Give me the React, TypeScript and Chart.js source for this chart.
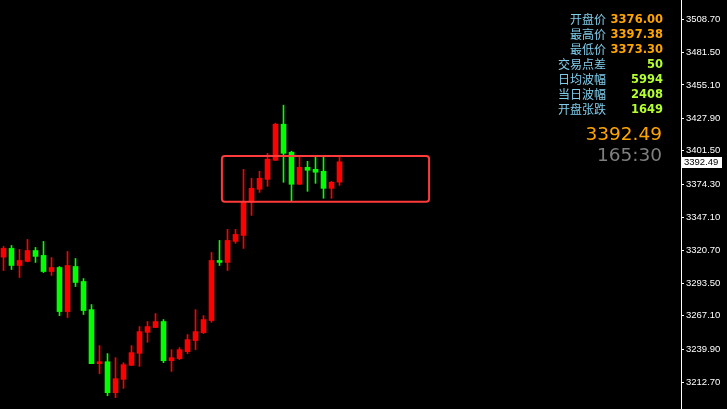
import React, { useEffect, useRef } from "react";
import { Chart, registerables } from "chart.js";

Chart.register(...registerables);

// ---- data ----
const opens = [
  3314.9, 3322.0, 3308.1, 3311.4, 3320.3, 3316.3, 3303.2, 3306.5, 3270.6, 3307.3,
  3295.1, 3272.2, 3228.2, 3229.8, 3204.6, 3215.4, 3226.8, 3236.6, 3253.7, 3257.6,
  3262.5, 3230.6, 3232.3, 3238.0, 3247.0, 3253.5, 3263.3, 3312.2, 3310.6, 3327.7,
  3332.6, 3359.5, 3370.1, 3378.2, 3393.7, 3423.1, 3400.3, 3374.2, 3388.0, 3386.4,
  3384.8, 3370.9, 3376.0,
];
const highs = [
  3323.6, 3324.4, 3321.2, 3329.3, 3322.8, 3327.7, 3314.6, 3307.3, 3319.5, 3313.8,
  3297.5, 3276.3, 3242.9, 3236.4, 3233.1, 3229.0, 3242.9, 3258.4, 3262.5, 3269.0,
  3264.1, 3239.6, 3241.3, 3251.9, 3272.2, 3267.3, 3318.7, 3328.5, 3337.5, 3337.5,
  3386.4, 3379.1, 3384.8, 3399.4, 3423.9, 3438.6, 3401.1, 3397.0, 3392.9, 3396.2,
  3396.2, 3376.6, 3397.38,
];
const lows = [
  3304.0, 3304.8, 3298.3, 3311.0, 3310.6, 3302.4, 3300.0, 3267.3, 3265.7, 3291.0,
  3268.2, 3228.2, 3220.0, 3202.1, 3200.5, 3208.1, 3226.8, 3226.0, 3245.6, 3257.6,
  3229.0, 3221.9, 3231.5, 3236.4, 3239.6, 3252.7, 3261.9, 3308.1, 3304.0, 3326.1,
  3322.0, 3348.9, 3367.6, 3372.5, 3393.7, 3375.8, 3360.3, 3374.2, 3368.5, 3375.0,
  3362.8, 3362.8, 3373.3,
];
const closes = [
  3322.0, 3308.1, 3312.2, 3320.3, 3315.5, 3303.2, 3306.5, 3270.6, 3308.1, 3294.3,
  3271.4, 3228.2, 3229.8, 3204.6, 3216.0, 3227.4, 3237.2, 3254.3, 3258.4, 3262.5,
  3230.6, 3233.1, 3239.6, 3247.8, 3254.3, 3264.1, 3312.2, 3310.6, 3328.5, 3333.4,
  3359.5, 3370.9, 3379.1, 3394.6, 3423.1, 3399.4, 3374.2, 3388.0, 3385.6, 3384.0,
  3370.9, 3375.8, 3392.49,
];

const yTickValues = [
  3508.7, 3481.5, 3455.1, 3427.9, 3401.5, 3374.3, 3347.1, 3320.7, 3293.5, 3267.1,
  3239.9, 3212.7,
];
const yMin = 3191.3;
const yMax = 3524.2;
const xMin = -0.4375;
const xMax = 84.6875;

// highlighted range box (data space)
const boxStartIndex = 27.3;
const boxEndIndex = 53.2;
const boxHigh = 3397.2;
const boxLow = 3360.0;

const infoLabels = ["开盘价", "最高价", "最低价", "交易点差", "日均波幅", "当日波幅", "开盘张跌"];
const infoValues = ["3376.00", "3397.38", "3373.30", "50", "5994", "2408", "1649"];
const lastPriceText = "3392.49";
const timerText = "165:30";

const UP = "#FF0000";
const DOWN = "#00FF00";

export default function App() {
  const ref = useRef<HTMLCanvasElement | null>(null);

  useEffect(() => {
    document.body.style.margin = "0";
    document.body.style.background = "#000";
    const canvas = ref.current;
    if (!canvas) return;

    const idx = closes.map((_, i) => i);
    const colors = idx.map((i) => (closes[i] >= opens[i] ? UP : DOWN));

    const overlay = {
      id: "overlay",
      beforeDraw(chart: any) {
        const ctx = chart.ctx;
        ctx.save();
        ctx.fillStyle = "#000";
        ctx.fillRect(0, 0, chart.width, chart.height);
        ctx.restore();
      },
      afterDatasetsDraw(chart: any) {
        const ctx = chart.ctx;
        const xs = chart.scales.x;
        const ys = chart.scales.y;
        const x0 = xs.getPixelForValue(boxStartIndex);
        const x1 = xs.getPixelForValue(boxEndIndex);
        const y0 = ys.getPixelForValue(boxHigh);
        const y1 = ys.getPixelForValue(boxLow);
        ctx.save();
        ctx.strokeStyle = "#FF3A3A";
        ctx.lineWidth = 2;
        ctx.beginPath();
        (ctx as any).roundRect(x0, y0, x1 - x0, y1 - y0, 3);
        ctx.stroke();
        ctx.restore();
      },
      afterDraw(chart: any) {
        const ctx = chart.ctx;
        const ys = chart.scales.y;
        ctx.save();
        // info panel
        ctx.textBaseline = "middle";
        for (let i = 0; i < infoLabels.length; i++) {
          const y = 19.8 + i * 14.9;
          ctx.textAlign = "right";
          ctx.font = '12px "Noto Sans CJK SC"';
          ctx.fillStyle = "#80CDEB";
          ctx.fillText(infoLabels[i], 606, y);
          ctx.font = 'bold 11.5px "DejaVu Sans"';
          ctx.fillStyle = i < 3 ? "#FFA500" : "#B4FF2F";
          ctx.fillText(infoValues[i], 663, y + 0.5);
        }
        ctx.font = '18.5px "DejaVu Sans"';
        ctx.fillStyle = "#FFA500";
        ctx.fillText(lastPriceText, 662, 135);
        ctx.fillStyle = "#7F7F7F";
        ctx.fillText(timerText, 662, 156);

        // price tag
        const py = ys.getPixelForValue(closes[closes.length - 1]);
        ctx.fillStyle = "#FFFFFF";
        ctx.fillRect(682, Math.round(py) - 5, 40, 11);
        ctx.fillStyle = "#000000";
        ctx.textAlign = "left";
        ctx.font = '9.5px "Liberation Sans"';
        ctx.fillText(lastPriceText, 684, Math.round(py) + 0.5);
        ctx.restore();
      },
    };

    const chart = new Chart(canvas, {
      type: "bar",
      data: {
        datasets: [
          {
            label: "wick",
            data: idx.map((i) => ({ x: i, y: [lows[i], highs[i]] })) as any,
            backgroundColor: colors,
            barThickness: 1,
            grouped: false,
            order: 2,
            borderWidth: 0,
          } as any,
          {
            label: "body",
            data: idx.map((i) => ({ x: i, y: [opens[i], closes[i]] })) as any,
            backgroundColor: colors,
            barThickness: 5,
            grouped: false,
            order: 1,
            borderWidth: 0,
            minBarLength: 1,
          } as any,
        ],
      },
      options: {
        animation: false,
        responsive: false,
        maintainAspectRatio: false,
        devicePixelRatio: 1,
        layout: { padding: 0 },
        plugins: {
          legend: { display: false },
          tooltip: { enabled: false },
        },
        scales: {
          x: {
            type: "linear",
            min: xMin,
            max: xMax,
            offset: false,
            display: false,
          },
          y: {
            type: "linear",
            position: "right",
            min: yMin,
            max: yMax,
            afterBuildTicks: (axis: any) => {
              axis.ticks = yTickValues.map((v) => ({ value: v }));
            },
            afterFit: (axis: any) => {
              axis.width = 46;
              axis.paddingTop = 0;
              axis.paddingBottom = 0;
            },
            ticks: {
              autoSkip: false,
              color: "#FFFFFF",
              padding: 2,
              font: { family: "Liberation Sans", size: 9.5 },
              callback: (v: any) => Number(v).toFixed(2),
            },
            grid: {
              display: true,
              drawOnChartArea: false,
              drawTicks: true,
              tickLength: 3,
              color: "#FFFFFF",
            },
            border: { display: true, color: "#FFFFFF", width: 1 },
          },
        },
      } as any,
      plugins: [overlay],
    });

    return () => chart.destroy();
  }, []);

  return (
    <div style={{ width: 727, height: 409, background: "#000" }}>
      <canvas ref={ref} width={727} height={409} style={{ display: "block" }} />
    </div>
  );
}
